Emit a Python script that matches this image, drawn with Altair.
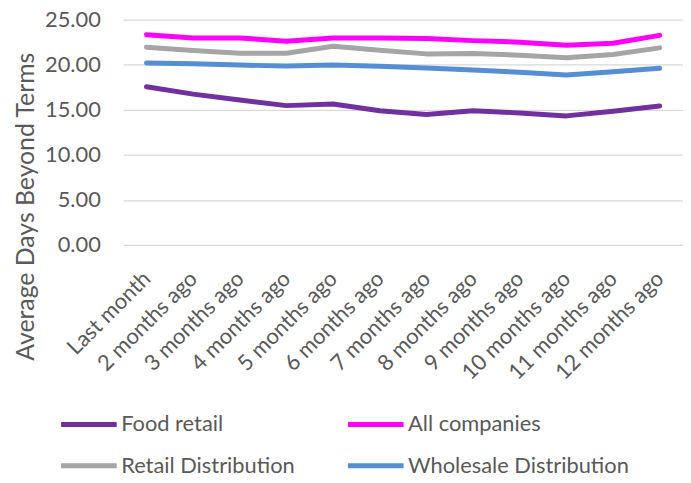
import altair as alt
import pandas as pd

months = ["Last month", "2 months ago", "3 months ago", "4 months ago", "5 months ago",
          "6 months ago", "7 months ago", "8 months ago", "9 months ago", "10 months ago",
          "11 months ago", "12 months ago"]
series_names = ["Food retail", "All companies", "Retail Distribution", "Wholesale Distribution"]
food_retail = [17.55, 16.74, 16.08, 15.46, 15.64, 14.90, 14.47, 14.90, 14.65, 14.32, 14.84, 15.42]
all_companies = [23.33, 22.97, 22.97, 22.60, 22.97, 22.97, 22.90, 22.67, 22.50, 22.16, 22.38, 23.26]
retail_distribution = [21.94, 21.57, 21.28, 21.28, 22.05, 21.60, 21.20, 21.25, 21.06, 20.77, 21.14, 21.87]
wholesale_distribution = [20.18, 20.10, 19.96, 19.85, 19.96, 19.82, 19.63, 19.41, 19.16, 18.86, 19.23, 19.60]
colors = ["#7030A0", "#FF00FF", "#A5A5A5", "#558ED5"]

rows = []
for name, vals in zip(series_names, [food_retail, all_companies, retail_distribution, wholesale_distribution]):
    for m, v in zip(months, vals):
        rows.append({"month": m, "series": name, "value": v})
df = pd.DataFrame(rows)

FONT = "Lato"
TXT = "#595959"

chart = alt.Chart(df).mark_line(strokeWidth=5, strokeCap="round", strokeJoin="round").encode(
    x=alt.X("month:N", sort=months, title=None,
            scale=alt.Scale(paddingInner=0, paddingOuter=0.5),
            axis=alt.Axis(labelAngle=-45, labelAlign="right", labelBaseline="middle",
                          labelFont=FONT, labelFontSize=22, labelColor=TXT,
                          ticks=False, domain=False, grid=False, labelPadding=30)),
    y=alt.Y("value:Q", title="Average Days Beyond Terms",
            scale=alt.Scale(domain=[0, 25], nice=False),
            axis=alt.Axis(values=[0, 5, 10, 15, 20, 25], format=".2f", labelFont=FONT,
                          labelFontSize=22, labelColor=TXT, ticks=False, domain=False,
                          gridColor="#D9D9D9", gridWidth=1.3, labelPadding=23,
                          titleFont=FONT, titleFontSize=25, titleColor=TXT,
                          titleFontWeight="normal", titleY=188, titlePadding=6)),
    color=alt.Color("series:N", sort=series_names,
                    scale=alt.Scale(domain=series_names, range=colors),
                    legend=alt.Legend(title=None, orient="none", legendX=-65, legendY=377,
                                      columns=2, direction="horizontal",
                                      symbolType="stroke", symbolSize=3136,
                                      symbolStrokeWidth=5, labelFont=FONT, labelFontSize=22,
                                      labelColor=TXT, labelOffset=2, rowPadding=-11,
                                      columnPadding=43, labelLimit=300)),
).properties(
    width=564, height=227,
    padding={"left": 116, "top": 10, "right": 0, "bottom": 230},
    autosize=alt.AutoSizeParams(type="none"),
).configure_view(stroke=None)

chart.save("out.html", embed_options={"renderer": "svg", "actions": False})
